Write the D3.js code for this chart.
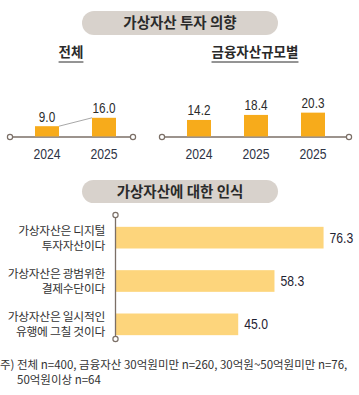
<!DOCTYPE html>
<html><head><meta charset="utf-8">
<script src="https://cdn.jsdelivr.net/npm/d3@7"></script>
<style>
html,body{margin:0;padding:0;background:#fff;}
svg{display:block;}
.kr{font-family:"Noto Sans CJK KR","Noto Sans",sans-serif;}
.num{font-family:"Liberation Sans",Arial,sans-serif;}
</style>
</head><body>
<div id="chart"></div>
<script>
const mainTitle = "가상자산 투자 의향";
const leftTitle = "전체";
const rightTitle = "금융자산규모별";
const leftYears = ["2024", "2025"];
const leftValues = [9.0, 16.0];
const rightYears = ["2024", "2025", "2025"];
const rightValues = [14.2, 18.4, 20.3];
const secondTitle = "가상자산에 대한 인식";
const perceptionLabels = [["가상자산은 디지털", "투자자산이다"], ["가상자산은 광범위한", "결제수단이다"], ["가상자산은 일시적인", "유행에 그칠 것이다"]];
const perceptionValues = [76.3, 58.3, 45.0];
const footnote = ["주) 전체 n=400, 금융자산 30억원미만 n=260, 30억원~50억원미만 n=76,", "50억원이상 n=64"];

const W = 359, H = 395;
const svg = d3.select("#chart").append("svg").attr("width", W).attr("height", H);
const axisCol = "#7b6f67", textCol = "#2b2b2b", orange = "#f7ab1b", yellow = "#fdd57c";
const NARROW = 0.84;

function narrowText(parent, x, y, txt, opts) {
  return parent.append("text").attr("class", "num")
    .attr("transform", `translate(${x},${y}) scale(${NARROW},1)`)
    .attr("text-anchor", opts.anchor || "start")
    .attr("font-size", opts.size).attr("font-weight", opts.weight || 400)
    .attr("fill", opts.fill).text(txt);
}

function pill(y, h, text) {
  svg.append("rect").attr("x", 82).attr("y", y).attr("width", 196).attr("height", h)
    .attr("rx", h / 2).attr("fill", "#d8d2cc");
  svg.append("text").attr("class", "kr").attr("x", 180).attr("y", y + h / 2 + 5)
    .attr("text-anchor", "middle").attr("font-size", 14.5).attr("font-weight", 700)
    .attr("fill", "#2a2a2a").text(text);
}
pill(11, 24, mainTitle);
pill(180, 23, secondTitle);

function subTitle(cx, text) {
  const t = svg.append("text").attr("class", "kr").attr("x", cx).attr("y", 57)
    .attr("text-anchor", "middle").attr("font-size", 13.5).attr("font-weight", 700)
    .attr("fill", "#2a2a2a").text(text);
  const bb = t.node().getBBox();
  svg.append("line").attr("x1", bb.x).attr("x2", bb.x + bb.width).attr("y1", 62).attr("y2", 62)
    .attr("stroke", "#2a2a2a").attr("stroke-width", 1);
}
subTitle(71, leftTitle);
subTitle(255, rightTitle);

// top vertical scale
const baseY = 137;
const yTop = d3.scaleLinear().domain([0, 25]).range([baseY, baseY - 30]);

function topChart(x0, x1, cats, vals, centers, withLine) {
  const idx = cats.map((c, i) => i);
  const x = d3.scalePoint().domain(idx).range(centers);
  const bw = 24;
  const g = svg.append("g");
  g.append("line").attr("x1", x0).attr("x2", x1).attr("y1", baseY).attr("y2", baseY)
    .attr("stroke", axisCol).attr("stroke-width", 1.3);
  [x0, x1].forEach(px => g.append("circle").attr("cx", px).attr("cy", baseY).attr("r", 2.6)
    .attr("fill", "#fff").attr("stroke", axisCol).attr("stroke-width", 1.2));
  if (withLine) {
    g.append("line")
      .attr("x1", x(0) + bw / 2).attr("y1", yTop(vals[0]))
      .attr("x2", x(1) - bw / 2).attr("y2", yTop(vals[1]))
      .attr("stroke", "#a8a8a8").attr("stroke-width", 1);
  }
  g.selectAll("rect.b").data(vals).enter().append("rect").attr("class", "b")
    .attr("x", (d, i) => x(i) - bw / 2).attr("width", bw)
    .attr("y", d => yTop(d)).attr("height", d => baseY - yTop(d) - 0.6).attr("fill", orange);
  vals.forEach((d, i) => narrowText(g, x(i), yTop(d) - 4.5, d.toFixed(1),
    { anchor: "middle", size: 14, fill: textCol }));
  cats.forEach((c, i) => narrowText(g, x(i), 159, c,
    { anchor: "middle", size: 14.5, fill: "#2e3446" }));
}
topChart(10, 133, leftYears, leftValues, [47, 104], true);
topChart(162, 349, rightYears, rightValues, [199, 313], false);

// perception bar chart
const axX = 115.5;
const xB = d3.scaleLinear().domain([0, 100]).range([axX, axX + 272.7]);
const yB = d3.scaleBand().domain(perceptionValues.map((d, i) => i)).range([216, 346]).paddingInner(0.5).paddingOuter(0.25);
const g2 = svg.append("g");
g2.selectAll("rect").data(perceptionValues).enter().append("rect")
  .attr("x", axX).attr("y", (d, i) => yB(i)).attr("height", yB.bandwidth())
  .attr("width", d => xB(d) - axX).attr("fill", yellow);
g2.append("line").attr("x1", axX).attr("x2", axX).attr("y1", 215).attr("y2", 339)
  .attr("stroke", axisCol).attr("stroke-width", 1.3);
[215, 339].forEach(py => g2.append("circle").attr("cx", axX).attr("cy", py).attr("r", 2.6)
  .attr("fill", "#fff").attr("stroke", axisCol).attr("stroke-width", 1.2));
perceptionValues.forEach((d, i) => narrowText(g2, xB(d) + 6, yB(i) + yB.bandwidth() / 2 + 5,
  d.toFixed(1), { size: 14.5, weight: 400, fill: "#1f2333" }));
perceptionLabels.forEach((lines, i) => {
  lines.forEach((ln, j) => g2.append("text").attr("class", "kr").attr("text-anchor", "end")
    .attr("font-size", 11.8).attr("fill", "#333").attr("letter-spacing", -0.3)
    .attr("x", 105).attr("y", yB(i) + yB.bandwidth() / 2 - 3 + j * 15).text(ln));
});

// footnote
svg.append("text").attr("class", "kr").attr("x", 0).attr("y", 369)
  .attr("font-size", 11.5).attr("fill", "#333").attr("letter-spacing", 0).text(footnote[0]);
svg.append("text").attr("class", "kr").attr("x", 17).attr("y", 384)
  .attr("font-size", 11.5).attr("fill", "#333").attr("letter-spacing", 0).text(footnote[1]);
</script>
</body></html>
